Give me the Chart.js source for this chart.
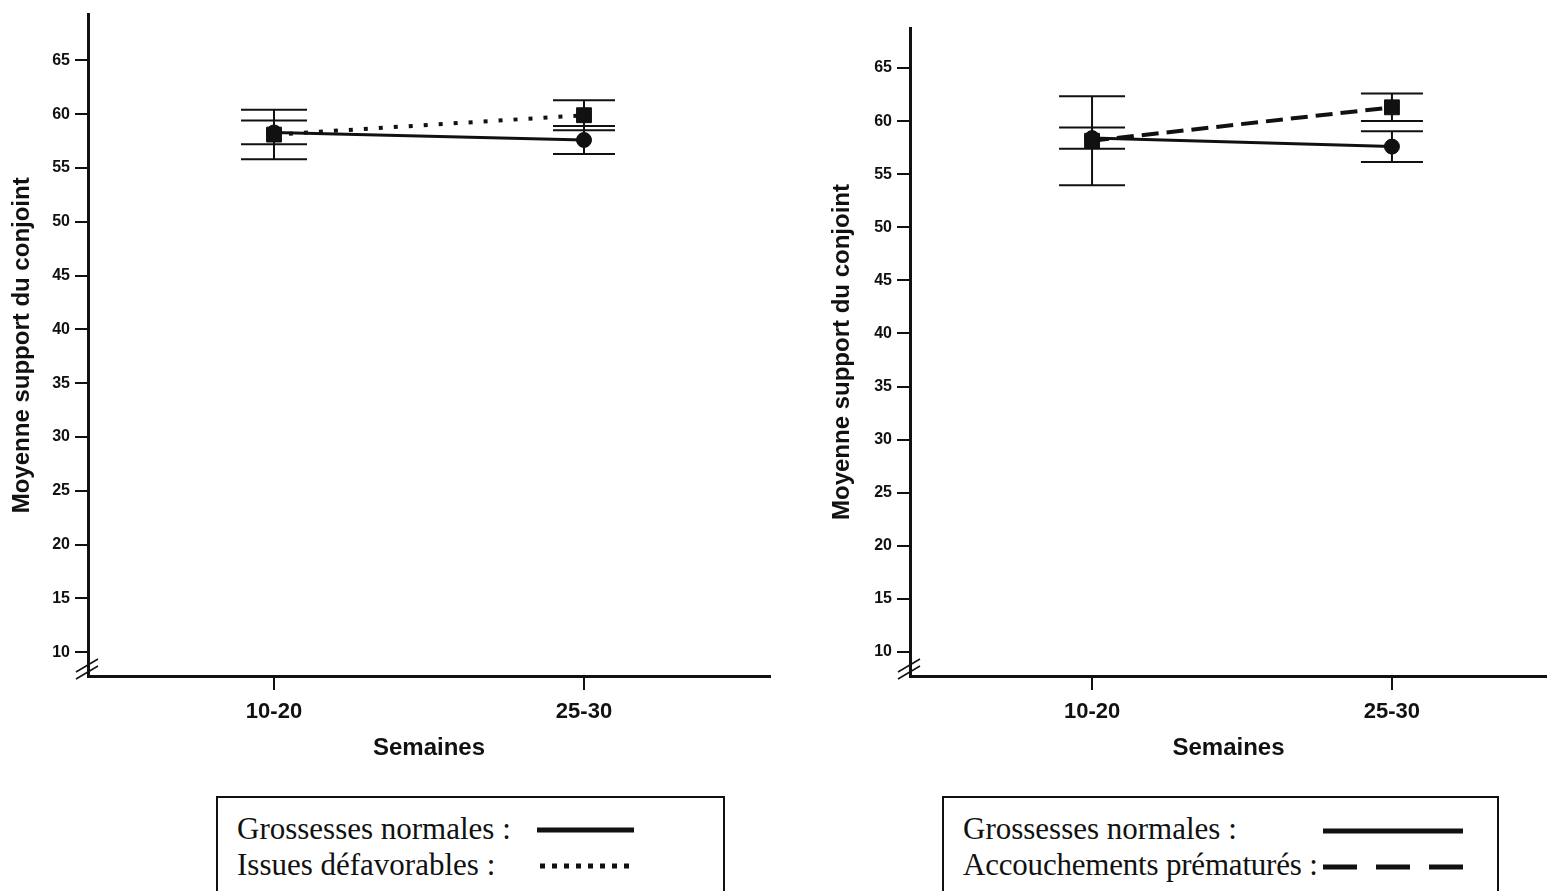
<!DOCTYPE html>
<html>
<head>
<meta charset="utf-8">
<script src="https://cdn.jsdelivr.net/npm/chart.js@4.4.1/dist/chart.umd.min.js"></script>
<style>
  body { margin: 0; background: #fff; width: 1547px; height: 891px; overflow: hidden; position: relative; }
  .wrap { position: absolute; top: 0; height: 790px; }
  .legend { position: absolute; top: 796px; height: 120px; border: 2px solid #111; background: #fff;
            font-family: "Liberation Serif", "Times New Roman", serif; font-size: 31px; color: #111; }
  .legend .row { position: absolute; left: 19px; white-space: nowrap; line-height: 36px; }
  .legend svg { position: absolute; }
</style>
</head>
<body>
<div class="wrap" style="left:0; width:790px"><canvas id="left"></canvas></div>
<div class="wrap" style="left:820px; width:739px"><canvas id="right"></canvas></div>

<div class="legend" style="left:216px; width:505px">
  <div class="row" style="top:13px">Grossesses normales :</div>
  <div class="row" style="top:49px">Issues défavorables :</div>
  <svg style="left:319px; top:27px" width="97" height="10"><line x1="0" y1="5" x2="97" y2="5" stroke="#111" stroke-width="5"/></svg>
  <svg style="left:322px; top:63px" width="92" height="10"><line x1="0" y1="5" x2="92" y2="5" stroke="#111" stroke-width="5" stroke-dasharray="5 7"/></svg>
</div>

<div class="legend" style="left:942px; width:553px">
  <div class="row" style="top:13px">Grossesses normales :</div>
  <div class="row" style="top:49px; letter-spacing:-0.2px">Accouchements prématurés :</div>
  <svg style="left:379px; top:28px" width="140" height="10"><line x1="0" y1="5" x2="140" y2="5" stroke="#111" stroke-width="5"/></svg>
  <svg style="left:379px; top:64px" width="140" height="10"><line x1="0" y1="5" x2="140" y2="5" stroke="#111" stroke-width="5" stroke-dasharray="34 19"/></svg>
</div>

<script>
// data
const weeks = ["10-20", "25-30"];
const yTicks = [10, 15, 20, 25, 30, 35, 40, 45, 50, 55, 60, 65];

// left panel: normal vs adverse outcomes
const normalLeft = [58.3, 57.6];
const normalLeftErr = [1.1, 1.3];
const adverseLeft = [58.1, 59.9];
const adverseLeftErr = [2.3, 1.4];

// right panel: normal vs preterm births
const normalRight = [58.4, 57.6];
const normalRightErr = [1.0, 1.45];
const pretermRight = [58.15, 61.3];
const pretermRightErr = [4.2, 1.3];

const INK = "#111";
const SANS = "'Liberation Sans', Arial, sans-serif";

// whiskers drawn under the markers
const errorBars = {
    id: "errorBars",
    beforeDatasetsDraw(chart) {
        const { ctx, scales: { x, y } } = chart;
        ctx.save();
        ctx.strokeStyle = INK;
        ctx.lineWidth = 2;
        chart.data.datasets.forEach(ds => {
            ds.data.forEach((p, i) => {
                const px = x.getPixelForValue(p.x);
                const hi = y.getPixelForValue(p.y + ds.err[i]);
                const lo = y.getPixelForValue(p.y - ds.err[i]);
                const w = i === 0 ? 33 : 31;
                ctx.beginPath();
                ctx.moveTo(px, hi); ctx.lineTo(px, lo);
                ctx.moveTo(px - w, hi); ctx.lineTo(px + w, hi);
                ctx.moveTo(px - w, lo); ctx.lineTo(px + w, lo);
                ctx.stroke();
            });
        });
        ctx.restore();
    }
};

// the "//" axis break in the corner
const axisBreak = {
    id: "axisBreak",
    afterDraw(chart) {
        const { ctx, chartArea: { left, bottom } } = chart;
        ctx.save();
        ctx.strokeStyle = INK;
        ctx.lineWidth = 1.5;
        ctx.beginPath();
        ctx.moveTo(left - 12, bottom - 4); ctx.lineTo(left + 10, bottom - 17);
        ctx.moveTo(left - 12, bottom + 3); ctx.lineTo(left + 10, bottom - 10);
        ctx.stroke();
        ctx.restore();
    }
};

function makeChart(id, a, aErr, b, bErr, bDash, bWidth, opt) {
    const pts = vals => vals.map((v, i) => ({ x: i, y: v }));
    return new Chart(document.getElementById(id), {
        type: "line",
        data: {
            datasets: [
                {
                    data: pts(b), err: bErr, order: 0,
                    borderColor: INK, borderWidth: bWidth, borderDash: bDash,
                    pointStyle: "rect", pointRadius: 10.5,
                    pointBackgroundColor: INK, pointBorderColor: INK, pointBorderWidth: 1
                },
                {
                    data: pts(a), err: aErr, order: 1,
                    borderColor: INK, borderWidth: 3,
                    pointStyle: "circle", pointRadius: 7.5,
                    pointBackgroundColor: INK, pointBorderColor: INK, pointBorderWidth: 1
                }
            ]
        },
        options: {
            responsive: true,
            maintainAspectRatio: false,
            animation: false,
            layout: { padding: { top: opt.top, right: opt.right, left: 0, bottom: 0 } },
            plugins: { legend: { display: false }, tooltip: { enabled: false } },
            scales: {
                x: {
                    type: "linear", min: opt.xMin, max: opt.xMax,
                    afterBuildTicks: s => { s.ticks = weeks.map((w, i) => ({ value: i })); },
                    afterFit: s => { s.height = 790 - opt.bottom; },
                    ticks: {
                        callback: v => weeks[v], color: INK, padding: 9,
                        maxRotation: 0, autoSkip: false,
                        font: { family: SANS, weight: "bold", size: 22 }
                    },
                    grid: { drawOnChartArea: false, tickLength: 14, lineWidth: 2, color: INK },
                    border: { display: true, color: INK, width: 3 },
                    title: {
                        display: true, text: "Semaines", color: INK,
                        font: { family: SANS, weight: "bold", size: 24 },
                        padding: { top: 0, bottom: 27 }
                    }
                },
                y: {
                    min: opt.yMin, max: opt.yMax,
                    afterBuildTicks: s => { s.ticks = yTicks.map(v => ({ value: v })); },
                    afterFit: s => { s.width = opt.axisX; },
                    ticks: { color: INK, padding: 5, font: { family: SANS, weight: "bold", size: 16 } },
                    grid: { drawOnChartArea: false, tickLength: 13, lineWidth: 2, color: INK },
                    border: { display: true, color: INK, width: 3 },
                    title: {
                        display: true, text: "Moyenne support du conjoint", color: INK,
                        font: { family: SANS, weight: "bold", size: 24 },
                        padding: { top: 8, bottom: 0 }
                    }
                }
            }
        },
        plugins: [errorBars, axisBreak]
    });
}

makeChart("left", normalLeft, normalLeftErr, adverseLeft, adverseLeftErr, [4, 11], 4,
    { top: 10, right: 20, bottom: 676, axisX: 88, xMin: -0.6, xMax: 1.6, yMin: 7.79, yMax: 69.25 });

makeChart("right", normalRight, normalRightErr, pretermRight, pretermRightErr, [17, 8], 4,
    { top: 28, right: 12, bottom: 676, axisX: 90, xMin: -0.607, xMax: 1.517, yMin: 7.74, yMax: 68.77 });
</script>
</body>
</html>
